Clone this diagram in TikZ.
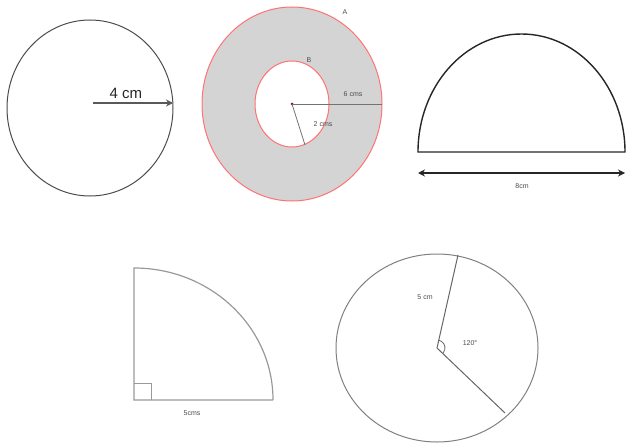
\documentclass[tikz,border=0pt]{standalone}
\usepackage{fontspec}
\setmainfont{Liberation Sans}
\usetikzlibrary{arrows.meta}
\begin{document}
\begin{tikzpicture}[x=1pt,y=-1pt,
  lbl/.style={inner sep=0pt,font=\fontsize{7}{8}\selectfont,text=black!70},
  ringline/.style={draw=red!55,line width=1pt},
  figline/.style={draw=black!70,line width=1pt}]
\useasboundingbox (0,0) rectangle (628,444);
% circle 1
\coordinate (c1) at (90,108);
\draw[figline] (c1) ellipse [x radius=83,y radius=88];
\coordinate (c1r) at (173,103);
\coordinate (c1s) at (93,103);
\draw[draw=black!65,line width=1.6pt,-{Stealth[length=7pt,width=7pt]}] (c1s) -- (c1r);
\node[inner sep=0pt,font=\fontsize{15}{16}\selectfont,text=black!85] (t4) at (126,93) {4 cm};
% annulus
\coordinate (c2) at (292,104);
\fill[black!17,even odd rule] (c2) ellipse [x radius=90,y radius=97] (c2) ellipse [x radius=37,y radius=43];
\draw[ringline] (c2) ellipse [x radius=90,y radius=97];
\draw[ringline] (c2) ellipse [x radius=37,y radius=43];
\fill[red!60!black] (c2) circle (1.5);
\coordinate (c2o) at (382,104);
\coordinate (c2i) at (305,145);
\draw[black!55,line width=0.8pt] (c2) -- (c2o);
\draw[black!55,line width=0.8pt] (c2) -- (c2i);
\node[lbl] (t6) at (353,94) {6 cms};
\node[lbl] (t2) at (323,124) {2 cms};
\node[lbl] (tA) at (345,12) {A};
\node[lbl] (tB) at (309,60) {B};
% semicircle
\coordinate (s1) at (418,152);
\coordinate (s2) at (625,152);
\draw[draw=black!85,line width=1.4pt] (s1) -- (s2) arc [start angle=0,end angle=-180,x radius=103.5,y radius=118] -- cycle;
\coordinate (a1) at (418,173);
\coordinate (a2) at (625,173);
\draw[draw=black!85,line width=1.2pt,{Stealth[length=7pt,width=7pt]}-{Stealth[length=7pt,width=7pt]}] (a1) -- (a2);
\node[lbl] (t8) at (522,186) {8cm};
% quarter circle
\coordinate (q0) at (134,400);
\coordinate (q1) at (273,400);
\coordinate (qt) at (134,268);
\draw[draw=black!40,line width=1.2pt] (q1) -- (q0) -- (qt) arc [start angle=-90,end angle=0,x radius=139,y radius=132];
\draw[draw=black!40,line width=1pt] (134,383) -- (151,383) -- (151,400);
\node[lbl] (t5) at (192,413) {5cms};
% circle with sector
\coordinate (c3) at (437,348);
\draw[draw=black!50,line width=1pt] (c3) ellipse [x radius=101,y radius=94];
\coordinate (p1) at (458,255);
\coordinate (p2) at (505,413);
\draw[draw=black!60,line width=1pt] (p1) -- (c3) -- (p2);
\draw[draw=black!60,line width=0.8pt] (c3) ++(-77:8) arc [start angle=-77,end angle=44,radius=8];
\node[lbl] (t5b) at (425,297) {5 cm};
\node[lbl] (t120) at (470,343) {120\textdegree};
\end{tikzpicture}
\end{document}
